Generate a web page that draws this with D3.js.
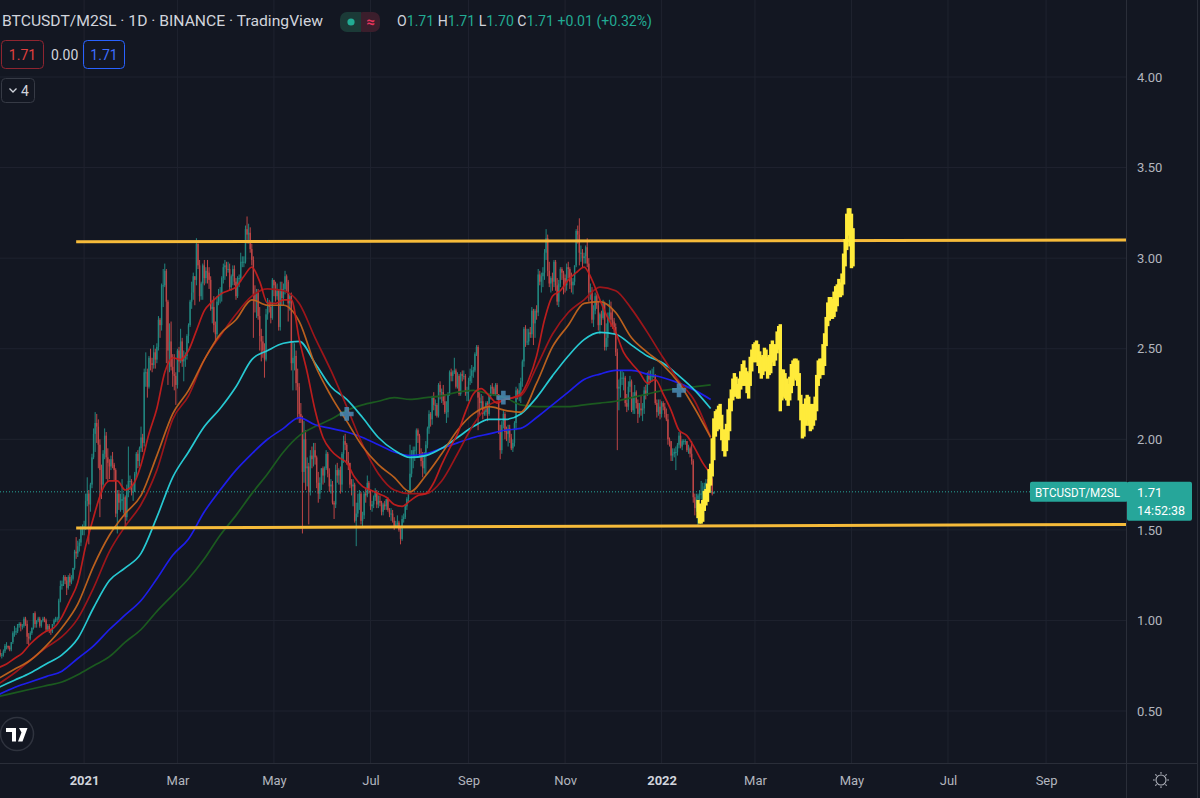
<!DOCTYPE html>
<html>
<head>
<meta charset="utf-8">
<title>BTCUSDT/M2SL</title>
<script src="https://cdn.jsdelivr.net/npm/d3@7"></script>
<style>
  html, body { margin: 0; padding: 0; background: #131722; overflow: hidden; }
  svg { display: block; font-family: Roboto, "Liberation Sans", Arial, sans-serif; }
</style>
</head>
<body>
<div id="chart"></div>
<script>
// ---------- data ----------
// daily candles, BTCUSDT / M2SL, first candle 2020-11-08, open of each day = previous close
const candleStart = "2020-11-08";
const firstOpen = 0.78;
const closes = [
  0.82,0.81,0.81,0.83,0.86,0.86,0.85,0.84,0.88,0.93,0.94,0.94,0.98,0.98,0.97,0.97,1.01,0.98,0.91,0.90,0.93,0.96,1.04,
  0.98,1.00,1.01,0.97,1.00,1.01,1.00,0.95,0.97,0.95,0.94,0.98,1.00,1.01,1.01,1.11,1.19,1.20,1.24,1.22,1.18,1.24,1.21,1.23,1.29,1.38,1.37,1.41,1.43,1.51,1.51,
  1.52,1.66,1.70,1.64,1.75,1.90,2.03,2.09,2.07,1.97,1.83,1.75,1.92,2.02,1.90,1.87,1.85,1.89,1.86,1.83,1.59,1.70,1.65,1.66,1.67,1.68,1.57,1.73,1.77,1.77,1.71,
  1.71,1.81,1.92,1.88,1.95,2.01,1.98,2.37,2.37,2.29,2.45,2.42,2.41,2.48,2.44,2.51,2.66,2.63,2.85,2.85,2.93,2.76,2.49,2.54,2.40,2.36,2.35,2.30,
  2.49,2.43,2.54,2.43,2.45,2.46,2.57,2.63,2.76,2.81,2.90,2.88,3.08,2.96,2.79,2.86,2.96,2.89,2.93,2.92,2.88,2.72,2.73,2.63,2.58,2.76,2.80,2.80,2.89,2.95,2.96,
  2.94,2.94,2.84,2.90,2.94,2.87,2.79,2.89,2.89,2.98,2.98,2.98,3.16,3.13,3.14,3.05,2.99,2.80,2.77,2.81,2.68,2.57,2.54,2.49,2.44,2.69,2.74,2.73,2.67,2.88,
  2.85,2.79,2.82,2.62,2.83,2.78,2.83,2.90,2.87,2.75,2.79,2.42,2.45,2.46,2.31,2.29,2.14,2.11,1.82,2.00,1.84,1.85,1.71,1.91,1.89,1.94,1.90,1.76,1.70,1.76,1.84,
  1.80,1.84,1.92,1.81,1.74,1.75,1.65,1.64,1.83,1.80,1.83,1.75,1.92,1.99,1.97,1.88,1.87,1.75,1.74,1.75,1.55,1.59,1.65,1.70,1.55,1.58,1.70,1.69,1.76,1.72,
  1.63,1.64,1.68,1.71,1.64,1.66,1.65,1.60,1.64,1.63,1.67,1.61,1.59,1.59,1.55,1.52,1.53,1.54,1.50,1.45,1.56,1.57,1.63,1.67,1.72,1.81,1.91,1.94,1.94,2.05,2.02,
  1.92,1.88,1.84,1.91,1.97,2.06,2.14,2.11,2.23,2.19,2.19,2.13,2.30,2.26,2.26,2.21,2.15,2.15,2.25,2.37,2.35,2.37,2.38,2.29,2.35,2.25,2.36,2.35,2.35,2.26,2.26,
  2.32,2.35,2.38,2.38,2.47,2.51,2.23,2.20,2.21,2.14,2.15,2.20,2.14,2.24,2.29,2.28,2.25,2.30,2.25,2.05,1.94,2.08,2.14,2.04,2.03,2.06,2.01,1.95,1.98,2.09,
  2.27,2.25,2.27,2.32,2.43,2.61,2.54,2.54,2.59,2.58,2.71,2.64,2.71,2.70,2.91,2.87,2.90,2.92,3.03,3.11,2.93,2.86,2.89,2.87,2.98,2.85,2.76,2.86,2.94,2.92,2.89,
  2.85,2.95,2.94,2.87,2.85,2.87,2.96,3.15,3.13,3.03,3.03,3.00,3.01,3.06,2.97,2.81,2.82,2.66,2.71,2.79,2.74,2.63,2.69,2.67,2.75,2.51,2.56,2.68,2.70,2.66,
  2.65,2.62,2.48,2.28,2.29,2.34,2.34,2.34,2.20,2.18,2.29,2.32,2.16,2.24,2.26,2.20,2.14,2.17,2.16,2.17,2.27,2.25,2.35,2.33,2.35,2.35,2.35,2.20,2.15,2.18,2.14,
  2.20,2.18,2.14,2.11,2.00,1.99,1.91,1.92,1.93,1.93,1.97,2.02,1.96,1.99,1.99,1.99,1.94,1.95,1.92,1.88,1.68,1.62,1.67,1.69,1.70,1.70,1.71,1.74,1.76,1.75,1.77,
  1.78,1.70,1.71
];
const highs = [
  0.83,0.84,0.82,0.84,0.87,0.88,0.86,0.86,0.88,0.94,0.97,0.96,0.98,0.99,0.99,0.98,1.02,1.02,1.00,0.93,0.94,0.96,1.04,
  1.05,1.00,1.02,1.02,1.00,1.02,1.02,1.01,0.98,0.98,0.95,0.98,1.01,1.02,1.02,1.12,1.22,1.22,1.25,1.25,1.24,1.25,1.26,1.25,1.29,1.39,1.46,1.44,1.45,1.52,1.53,
  1.55,1.70,1.79,1.72,1.76,1.92,2.06,2.15,2.14,2.11,2.00,1.86,1.94,2.06,2.04,1.95,1.89,1.91,1.93,1.87,1.84,1.72,1.72,1.70,1.78,1.70,1.69,1.75,1.96,1.80,1.78,
  1.75,1.82,1.93,1.94,1.96,2.07,2.03,2.39,2.48,2.39,2.46,2.50,2.45,2.52,2.50,2.53,2.68,2.67,2.86,2.94,2.97,2.94,2.77,2.64,2.65,2.47,2.47,2.37,
  2.50,2.51,2.61,2.56,2.49,2.48,2.58,2.64,2.77,2.87,2.92,2.90,3.11,3.08,2.99,2.87,2.97,2.99,2.95,2.99,2.95,2.90,2.77,2.79,2.65,2.79,2.83,2.84,2.90,2.97,2.99,
  2.98,2.98,2.97,2.91,2.96,2.96,2.89,2.90,2.91,3.03,3.01,3.01,3.18,3.23,3.19,3.17,3.08,3.01,2.85,2.83,2.83,2.73,2.61,2.57,2.53,2.72,2.78,2.77,2.76,2.89,
  2.88,2.87,2.86,2.83,2.87,2.87,2.86,2.93,2.91,2.88,2.80,2.81,2.54,2.53,2.49,2.39,2.31,2.20,2.13,2.10,2.05,1.90,1.87,1.94,1.96,1.98,1.98,1.91,1.82,1.79,1.84,
  1.85,1.85,1.94,1.93,1.84,1.78,1.77,1.66,1.86,1.87,1.84,1.85,1.93,2.02,2.03,1.98,1.93,1.87,1.78,1.78,1.76,1.65,1.70,1.72,1.71,1.60,1.71,1.73,1.80,1.77,
  1.72,1.66,1.69,1.73,1.72,1.69,1.69,1.66,1.65,1.66,1.67,1.68,1.62,1.62,1.61,1.57,1.55,1.58,1.55,1.51,1.58,1.59,1.64,1.68,1.72,1.97,1.94,1.96,1.96,2.06,2.06,
  2.03,1.95,1.93,1.93,1.99,2.07,2.16,2.15,2.24,2.26,2.22,2.20,2.31,2.32,2.28,2.30,2.25,2.21,2.26,2.38,2.39,2.38,2.45,2.39,2.37,2.36,2.37,2.38,2.38,2.36,2.29,
  2.34,2.39,2.41,2.40,2.48,2.52,2.52,2.26,2.25,2.24,2.18,2.21,2.21,2.25,2.30,2.31,2.29,2.31,2.31,2.25,2.08,2.10,2.16,2.15,2.07,2.08,2.08,2.03,2.00,2.10,
  2.29,2.28,2.31,2.34,2.44,2.62,2.63,2.61,2.61,2.62,2.73,2.72,2.72,2.74,2.94,2.93,2.92,2.95,3.05,3.16,3.13,2.98,2.90,2.92,2.99,2.99,2.89,2.88,2.95,2.95,2.93,
  2.91,2.97,2.98,2.95,2.92,2.89,2.96,3.16,3.18,3.22,3.07,3.05,3.03,3.07,3.11,3.00,2.86,2.84,2.74,2.81,2.80,2.76,2.70,2.71,2.77,2.76,2.64,2.70,2.77,2.76,
  2.72,2.67,2.64,2.50,2.33,2.38,2.38,2.37,2.35,2.25,2.32,2.35,2.33,2.26,2.30,2.27,2.22,2.20,2.24,2.20,2.29,2.30,2.37,2.38,2.38,2.39,2.40,2.36,2.22,2.22,2.22,
  2.21,2.21,2.20,2.17,2.14,2.01,1.99,1.95,1.95,1.96,1.98,2.04,2.04,2.00,2.00,2.00,1.99,1.97,1.96,1.99,1.89,1.70,1.70,1.70,1.72,1.77,1.76,1.76,1.78,1.78,1.79,
  1.80,1.79,1.71
];
const lows = [
  0.77,0.80,0.79,0.80,0.82,0.84,0.84,0.83,0.83,0.87,0.91,0.92,0.93,0.96,0.94,0.95,0.96,0.97,0.87,0.86,0.89,0.92,0.95,
  0.96,0.96,0.99,0.96,0.96,0.99,0.99,0.94,0.94,0.93,0.92,0.93,0.97,0.99,0.99,1.00,1.10,1.17,1.19,1.20,1.14,1.17,1.19,1.20,1.22,1.28,1.34,1.35,1.38,1.41,1.47,
  1.47,1.50,1.63,1.42,1.60,1.73,1.89,1.93,1.98,1.84,1.57,1.67,1.73,1.89,1.78,1.77,1.78,1.83,1.84,1.77,1.57,1.48,1.61,1.60,1.61,1.59,1.51,1.55,1.68,1.72,1.69,
  1.66,1.71,1.79,1.84,1.85,1.93,1.93,1.96,2.29,2.23,2.28,2.38,2.37,2.39,2.39,2.42,2.49,2.56,2.60,2.73,2.84,2.42,2.30,2.37,2.38,2.29,2.27,2.19,
  2.28,2.37,2.42,2.40,2.32,2.40,2.44,2.53,2.62,2.72,2.77,2.74,2.85,2.94,2.76,2.77,2.77,2.85,2.86,2.86,2.83,2.71,2.64,2.59,2.53,2.56,2.74,2.75,2.76,2.86,2.88,
  2.90,2.92,2.82,2.82,2.85,2.85,2.77,2.78,2.84,2.87,2.95,2.95,2.97,3.08,3.08,3.03,2.96,2.56,2.70,2.67,2.66,2.49,2.43,2.45,2.34,2.43,2.66,2.70,2.64,2.66,
  2.79,2.76,2.77,2.60,2.60,2.74,2.74,2.80,2.81,2.65,2.71,2.38,2.27,2.38,2.27,2.11,2.09,2.09,1.48,1.76,1.72,1.74,1.53,1.69,1.84,1.85,1.86,1.73,1.65,1.67,1.72,
  1.75,1.76,1.83,1.79,1.71,1.70,1.64,1.56,1.62,1.76,1.75,1.70,1.71,1.87,1.94,1.86,1.83,1.73,1.69,1.63,1.54,1.41,1.57,1.61,1.53,1.52,1.56,1.65,1.68,1.70,
  1.61,1.60,1.62,1.66,1.62,1.62,1.63,1.58,1.58,1.61,1.61,1.60,1.57,1.55,1.54,1.50,1.51,1.52,1.49,1.42,1.44,1.54,1.56,1.61,1.65,1.70,1.79,1.84,1.88,1.91,1.98,
  1.90,1.85,1.79,1.81,1.80,1.95,2.03,2.07,2.08,2.16,2.13,2.12,2.12,2.22,2.20,2.19,2.14,2.09,2.12,2.24,2.32,2.32,2.36,2.28,2.28,2.24,2.24,2.32,2.33,2.24,2.21,
  2.21,2.30,2.31,2.34,2.37,2.46,2.05,2.13,2.17,2.11,2.13,2.13,2.10,2.13,2.22,2.25,2.24,2.24,2.22,2.03,1.89,1.92,2.06,2.00,1.99,1.96,1.98,1.94,1.93,1.96,
  2.05,2.22,2.21,2.20,2.29,2.40,2.51,2.52,2.52,2.56,2.56,2.52,2.56,2.66,2.68,2.85,2.81,2.84,2.88,2.99,2.90,2.84,2.81,2.82,2.84,2.82,2.74,2.73,2.84,2.88,2.80,
  2.81,2.82,2.89,2.83,2.81,2.80,2.85,2.95,3.08,2.96,2.98,2.95,2.97,2.97,2.95,2.76,2.77,2.64,2.62,2.69,2.72,2.60,2.58,2.63,2.66,2.49,2.49,2.51,2.66,2.62,
  2.61,2.58,2.46,1.94,2.16,2.23,2.30,2.27,2.18,2.15,2.16,2.26,2.15,2.14,2.14,2.17,2.09,2.12,2.13,2.10,2.14,2.22,2.24,2.30,2.31,2.32,2.34,2.19,2.12,2.13,2.11,
  2.12,2.16,2.12,2.10,1.97,1.96,1.88,1.88,1.90,1.83,1.91,1.95,1.95,1.94,1.97,1.97,1.93,1.92,1.90,1.86,1.65,1.58,1.60,1.52,1.66,1.67,1.65,1.68,1.72,1.73,1.73,
  1.74,1.69,1.70
];

// moving averages, sampled from 2020-11-08: fast red every 5 days, the others every 10 days
const maStart = "2020-11-08";
const fastRed = [0.74,0.76,0.79,0.82,0.87,0.91,0.94,0.96,1.02,1.11,1.21,1.41,1.57,1.71,1.77,1.77,1.72,1.75,1.86,2.03,
  2.17,2.37,2.45,2.44,2.49,2.60,2.71,2.76,2.80,2.82,2.84,2.90,2.95,2.87,2.75,2.75,2.77,2.77,2.55,2.37,
  2.16,2.01,1.94,1.90,1.87,1.79,1.74,1.72,1.70,1.68,1.64,1.63,1.66,1.69,1.70,1.76,1.86,1.95,2.03,2.15,
  2.25,2.28,2.24,2.20,2.22,2.23,2.25,2.33,2.46,2.66,2.79,2.82,2.88,2.92,2.95,2.88,2.77,2.67,2.59,2.48,
  2.42,2.37,2.31,2.33,2.25,2.16,2.05,2.02,1.95,1.87,1.81];
const slowRed = [0.65,0.71,0.78,0.85,0.91,1.01,1.18,1.38,1.52,1.64,1.83,2.11,2.24,2.44,2.57,2.69,2.79,2.83,2.82,2.75,
  2.56,2.38,2.18,1.97,1.81,1.72,1.70,1.70,1.77,1.92,2.08,2.19,2.22,2.24,2.40,2.58,2.70,2.77,2.84,2.82,2.72,2.59,2.45,2.32,2.21,2.01];
const orangeMa = [0.68,0.73,0.78,0.86,0.96,1.09,1.30,1.47,1.59,1.69,1.91,2.14,2.27,2.44,2.58,2.66,2.77,2.74,2.74,2.65,
  2.41,2.24,2.10,1.96,1.86,1.79,1.71,1.80,1.92,2.05,2.14,2.18,2.16,2.15,2.31,2.51,2.63,2.75,2.76,2.70,2.56,2.48,2.41,2.31,2.17,2.01];
const cyanMa = [0.63,0.67,0.71,0.76,0.81,0.90,1.07,1.22,1.29,1.37,1.57,1.79,1.93,2.07,2.17,2.29,2.44,2.49,2.53,2.54,
  2.42,2.29,2.22,2.12,2.01,1.94,1.90,1.91,1.95,2.01,2.07,2.11,2.11,2.14,2.23,2.35,2.46,2.55,2.59,2.58,2.52,2.46,2.42,2.35,2.27,2.17];
const blueMa = [0.59,0.63,0.66,0.69,0.72,0.79,0.86,0.95,1.03,1.11,1.23,1.36,1.45,1.60,1.72,1.83,1.92,2.00,2.06,2.12,
  2.08,2.06,2.04,2.01,1.97,1.93,1.91,1.92,1.95,1.98,2.01,2.03,2.05,2.06,2.12,2.19,2.26,2.33,2.36,2.38,2.38,2.36,2.34,2.31,2.27,2.22];
const greenMa = [0.58,0.60,0.62,0.64,0.66,0.70,0.75,0.80,0.88,0.95,1.05,1.14,1.23,1.34,1.47,1.58,1.70,1.81,1.93,2.02,
  2.07,2.11,2.16,2.19,2.21,2.23,2.22,2.23,2.24,2.26,2.27,2.25,2.23,2.19,2.18,2.18,2.18,2.19,2.20,2.21,2.23,2.25,2.27,2.28,2.29,2.30];

// cross markers
const crossDates = ["2021-06-16", "2021-09-23", "2022-01-12"];
const crossValues = [2.14, 2.23, 2.27];

// projected path (yellow bars), daily from 2022-01-24
const yellowStart = "2022-01-24";
const yellowHigh = [1.66,1.64,1.62,1.66,1.71,1.72,1.75,1.83,1.86,2.00, 2.11,2.15,2.16,2.18,2.19,2.13,2.05,2.02,2.08,2.16,
  2.22,2.27,2.33,2.36,2.34,2.30,2.33,2.37,2.41,2.43, 2.39,2.37,2.36,2.45,2.49,2.52,2.53,2.54,2.52,2.48,
  2.45,2.46,2.50,2.49,2.45,2.46,2.52,2.54,2.50,2.52, 2.59,2.62,2.63,2.38,2.38,2.36,2.33,2.30,2.34,2.41,
  2.43,2.44,2.44,2.43,2.36,2.24,2.19,2.16,2.22,2.24, 2.23,2.19,2.16,2.19,2.23,2.35,2.43,2.44,2.44,2.52,
  2.58,2.67,2.75,2.78,2.78,2.77,2.81,2.84,2.85,2.88, 2.86,2.91,3.02,3.10,3.24,3.27,3.27,3.24,3.16];
const yellowLow = [1.57,1.54,1.54,1.55,1.61,1.64,1.66,1.71,1.75,1.80, 1.89,2.02,2.05,2.06,2.08,2.00,1.94,1.91,1.94,2.00,
  2.05,2.16,2.22,2.24,2.26,2.23,2.23,2.28,2.30,2.33, 2.30,2.26,2.23,2.30,2.38,2.43,2.44,2.43,2.41,2.37,
  2.34,2.36,2.38,2.39,2.34,2.36,2.37,2.43,2.41,2.44, 2.48,2.50,2.16,2.22,2.24,2.23,2.22,2.19,2.22,2.26,
  2.30,2.34,2.33,2.30,2.22,2.11,2.01,2.02,2.08,2.11, 2.08,2.05,2.06,2.08,2.11,2.16,2.30,2.34,2.36,2.36,
  2.41,2.52,2.63,2.66,2.67,2.67,2.68,2.71,2.74,2.79, 2.79,2.80,2.86,2.96,3.05,3.13,3.07,2.95,2.96];

// horizontal channel lines: [start date, end date, start value, end value]
const channelLines = [
  ["2020-12-27", "2022-10-22", 3.09, 3.10],
  ["2020-12-27", "2022-10-22", 1.51, 1.53]
];

const priceTicks = [0.5, 1, 1.5, 2, 2.5, 3, 3.5, 4];
const lastPrice = 1.71;
const countdown = "14:52:38";
const symbolName = "BTCUSDT/M2SL";
const ohlcLabels = ["O", "H", "L", "C"];
const ohlcValues = ["1.71", "1.71", "1.70", "1.71"];
const ohlcChange = "+0.01 (+0.32%)";

// ---------- chart ----------
const width = 1200, height = 798;
const plotRight = 1126, plotBottom = 763;
const DAY = 864e5, t2021 = Date.UTC(2021, 0, 1);
const parse = d3.utcParse("%Y-%m-%d");

const x = d3.scaleUtc()
    .domain([new Date(t2021 - 53.14 * DAY), new Date(t2021 + 658.5 * DAY)])
    .range([0, plotRight]);
const y = d3.scaleLinear().domain([0.5, 4]).range([711, 77]);

const svg = d3.select("#chart").append("svg")
    .attr("width", width).attr("height", height);

svg.append("rect").attr("width", width).attr("height", height).attr("fill", "#131722");
svg.append("clipPath").attr("id", "plot")
  .append("rect").attr("width", plotRight).attr("height", plotBottom);

const monthTicks = d3.utcMonth.range(new Date(t2021), new Date(Date.UTC(2022, 9, 2)), 2);

// grid
const grid = svg.append("g").attr("clip-path", "url(#plot)").attr("stroke", "#1f232f");
grid.selectAll("line.vg").data(monthTicks).join("line").attr("class", "vg")
    .attr("x1", d => x(d)).attr("x2", d => x(d)).attr("y1", 0).attr("y2", plotBottom);
grid.selectAll("line.hg").data(priceTicks).join("line").attr("class", "hg")
    .attr("x1", 0).attr("x2", plotRight).attr("y1", d => y(d)).attr("y2", d => y(d));

// candles
const start = parse(candleStart);
const candles = closes.map((c, i) => ({
  date: d3.utcDay.offset(start, i),
  o: i ? closes[i - 1] : firstOpen, c, h: highs[i], l: lows[i]
}));
const upColor = "#26a69a", downColor = "#ef5350";
const cg = svg.append("g").attr("clip-path", "url(#plot)").attr("opacity", 0.78);
cg.selectAll("line").data(candles).join("line")
    .attr("x1", d => x(d.date)).attr("x2", d => x(d.date))
    .attr("y1", d => y(d.h)).attr("y2", d => y(d.l))
    .attr("stroke", d => d.c >= d.o ? upColor : downColor)
    .attr("stroke-width", 1);
cg.selectAll("rect").data(candles).join("rect")
    .attr("x", d => x(d.date) - 0.7).attr("width", 1.4)
    .attr("y", d => y(Math.max(d.o, d.c)))
    .attr("height", d => Math.max(1, y(Math.min(d.o, d.c)) - y(Math.max(d.o, d.c))))
    .attr("fill", d => d.c >= d.o ? upColor : downColor);

// last price dotted line
svg.append("line")
    .attr("x1", 0).attr("x2", plotRight).attr("y1", y(lastPrice)).attr("y2", y(lastPrice))
    .attr("stroke", "#26a69a").attr("stroke-dasharray", "1,2").attr("stroke-width", 1);

// moving averages
const maStartDate = parse(maStart);
const maSeries = [
  { values: greenMa, step: 10, color: "#1b5e20" },
  { values: blueMa, step: 10, color: "#1f1ff5" },
  { values: cyanMa, step: 10, color: "#28d3dc" },
  { values: slowRed, step: 10, color: "#a3161a" },
  { values: orangeMa, step: 10, color: "#c3641e" },
  { values: fastRed, step: 5, color: "#c41d1d" }
];
const maLine = d3.line()
    .x(d => x(d[0])).y(d => y(d[1]))
    .curve(d3.curveMonotoneX);
const mg = svg.append("g").attr("clip-path", "url(#plot)").attr("fill", "none");
maSeries.forEach(s => {
  const pts = s.values.map((v, i) => [d3.utcDay.offset(maStartDate, i * s.step), v]);
  mg.append("path").attr("d", maLine(pts))
    .attr("stroke", s.color).attr("stroke-width", 1.7).attr("stroke-opacity", 0.95);
});

// cross markers
svg.append("g").selectAll("path").data(crossDates).join("path")
    .attr("d", d3.symbol(d3.symbolCross, 105))
    .attr("transform", (d, i) => `translate(${x(parse(d))},${y(crossValues[i])})`)
    .attr("fill", "#4a8cb6").attr("opacity", 0.85);

// channel lines
svg.append("g").attr("clip-path", "url(#plot)").selectAll("line").data(channelLines).join("line")
    .attr("x1", d => x(parse(d[0]))).attr("x2", d => x(parse(d[1])))
    .attr("y1", d => y(d[2])).attr("y2", d => y(d[3]))
    .attr("stroke", "#f6bb3a").attr("stroke-width", 3);

// projected yellow bars
const ys = parse(yellowStart);
svg.append("g").attr("clip-path", "url(#plot)").selectAll("line").data(yellowHigh).join("line")
    .attr("x1", (d, i) => x(d3.utcDay.offset(ys, i))).attr("x2", (d, i) => x(d3.utcDay.offset(ys, i)))
    .attr("y1", d => y(d) - 1).attr("y2", (d, i) => y(yellowLow[i]) + 1)
    .attr("stroke", "#ffeb3b").attr("stroke-width", 3.4);

// frame lines
svg.append("line").attr("x1", plotRight + 0.5).attr("x2", plotRight + 0.5).attr("y1", 0).attr("y2", height)
    .attr("stroke", "#2a2e39");
svg.append("line").attr("x1", 0).attr("x2", 1197).attr("y1", plotBottom + 0.5).attr("y2", plotBottom + 0.5)
    .attr("stroke", "#2a2e39");
svg.append("line").attr("x1", 1197.5).attr("x2", 1197.5).attr("y1", 0).attr("y2", height)
    .attr("stroke", "#2a2e39");

// price axis
const yAxis = svg.append("g").attr("transform", `translate(${plotRight + 1},0)`)
    .call(d3.axisRight(y).tickValues(priceTicks).tickFormat(d3.format(".2f")).tickSize(0).tickPadding(10));
yAxis.select(".domain").remove();
yAxis.attr("font-size", 13).attr("font-family", null);
yAxis.selectAll("text").attr("fill", "#b2b5be");

// time axis
const fmtYear = d3.utcFormat("%Y"), fmtMonth = d3.utcFormat("%b");
const xAxis = svg.append("g").attr("transform", `translate(0,${plotBottom})`)
    .call(d3.axisBottom(x).tickValues(monthTicks)
      .tickFormat(d => d.getUTCMonth() === 0 ? fmtYear(d) : fmtMonth(d))
      .tickSize(0).tickPadding(13));
xAxis.select(".domain").remove();
xAxis.attr("font-size", 13).attr("font-family", null);
xAxis.selectAll("text")
    .attr("fill", d => d.getUTCMonth() === 0 ? "#d1d4dc" : "#b2b5be")
    .attr("font-weight", d => d.getUTCMonth() === 0 ? 700 : 400);

// gear icon
const gear = svg.append("g").attr("transform", "translate(1161,780)")
    .attr("stroke", "#b2b5be").attr("fill", "none").attr("stroke-width", 1.1);
gear.append("circle").attr("r", 5);
d3.range(8).forEach(k => {
  const a = k * Math.PI / 4;
  gear.append("line").attr("x1", Math.cos(a) * 6.2).attr("y1", Math.sin(a) * 6.2)
      .attr("x2", Math.cos(a) * 8).attr("y2", Math.sin(a) * 8);
});

// last price tags
const yp = y(lastPrice);
const tag = svg.append("g").attr("font-size", 13).attr("fill", "#ffffff");
tag.append("rect").attr("x", 1030).attr("y", yp - 10).attr("width", 98).attr("height", 20)
    .attr("rx", 2).attr("fill", "#26a69a");
tag.append("rect").attr("x", plotRight + 1).attr("y", yp - 10).attr("width", 65).attr("height", 39)
    .attr("rx", 2).attr("fill", "#26a69a");
tag.append("text").attr("x", 1035).attr("y", yp + 5)
    .attr("textLength", 85).attr("lengthAdjust", "spacingAndGlyphs").text(symbolName);
tag.append("text").attr("x", 1137).attr("y", yp + 5).text(lastPrice.toFixed(2));
tag.append("text").attr("x", 1137).attr("y", yp + 23)
    .attr("textLength", 48).attr("lengthAdjust", "spacingAndGlyphs").text(countdown);

// header
const hdr = svg.append("g").attr("font-size", 15);
hdr.append("text").attr("x", 2).attr("y", 26).attr("fill", "#d1d4dc")
    .attr("textLength", 321).attr("lengthAdjust", "spacingAndGlyphs")
    .text("BTCUSDT/M2SL · 1D · BINANCE · TradingView");
hdr.append("rect").attr("x", 340).attr("y", 12).attr("width", 24).attr("height", 20).attr("rx", 7).attr("fill", "#1b3a37");
hdr.append("rect").attr("x", 356).attr("y", 12).attr("width", 24).attr("height", 20).attr("rx", 7).attr("fill", "#3b1e2c");
hdr.append("rect").attr("x", 356).attr("y", 12).attr("width", 5).attr("height", 20).attr("fill", "#1b3a37");
hdr.append("circle").attr("cx", 351).attr("cy", 22).attr("r", 3.6).attr("fill", "#22ab94");
hdr.append("text").attr("x", 370.5).attr("y", 27).attr("text-anchor", "middle")
    .attr("fill", "#e8355d").attr("font-weight", 700).text("≈");

const ohlc = hdr.append("text").attr("x", 397).attr("y", 26)
    .attr("textLength", 255).attr("lengthAdjust", "spacingAndGlyphs");
ohlcLabels.forEach((lab, i) => {
  ohlc.append("tspan").attr("fill", "#d1d4dc").text((i ? " " : "") + lab);
  ohlc.append("tspan").attr("fill", "#22ab94").text(ohlcValues[i]);
});
ohlc.append("tspan").attr("fill", "#22ab94").text(" " + ohlcChange);

const row2 = svg.append("g").attr("font-size", 14);
row2.append("rect").attr("x", 1.5).attr("y", 40.5).attr("width", 42).attr("height", 28).attr("rx", 4)
    .attr("fill", "none").attr("stroke", "#8e2530");
row2.append("text").attr("x", 22.5).attr("y", 59.5).attr("text-anchor", "middle").attr("fill", "#e0403f").text("1.71");
row2.append("text").attr("x", 51).attr("y", 59.5).attr("fill", "#d1d4dc").text("0.00");
row2.append("rect").attr("x", 83.5).attr("y", 40.5).attr("width", 41).attr("height", 28).attr("rx", 4)
    .attr("fill", "none").attr("stroke", "#2962ff");
row2.append("text").attr("x", 104).attr("y", 59.5).attr("text-anchor", "middle").attr("fill", "#3d6dff").text("1.71");

row2.append("rect").attr("x", 1.5).attr("y", 78.5).attr("width", 33).attr("height", 24).attr("rx", 4)
    .attr("fill", "none").attr("stroke", "#363a45");
row2.append("path").attr("d", "M9.5,88.5 L13,92 L16.5,88.5").attr("fill", "none")
    .attr("stroke", "#d1d4dc").attr("stroke-width", 1.3);
row2.append("text").attr("x", 21).attr("y", 96).attr("fill", "#d1d4dc").text("4");

// TradingView logo
const logo = svg.append("g").attr("transform", "translate(17,734)");
logo.append("circle").attr("r", 16.5).attr("fill", "#131722").attr("stroke", "#2f333e").attr("stroke-width", 1.5);
logo.append("path").attr("fill", "#ffffff")
    .attr("d", "M-11,-6 L-1,-6 L-1,7.5 L-5,7.5 L-5,-2 L-11,-2 Z M2,-6 L10.5,-6 L5.5,7.5 L1,7.5 L4.5,-1.5 Z");
logo.append("circle").attr("cx", 0.8).attr("cy", -3.8).attr("r", 0).attr("fill", "#ffffff");
</script>
</body>
</html>
